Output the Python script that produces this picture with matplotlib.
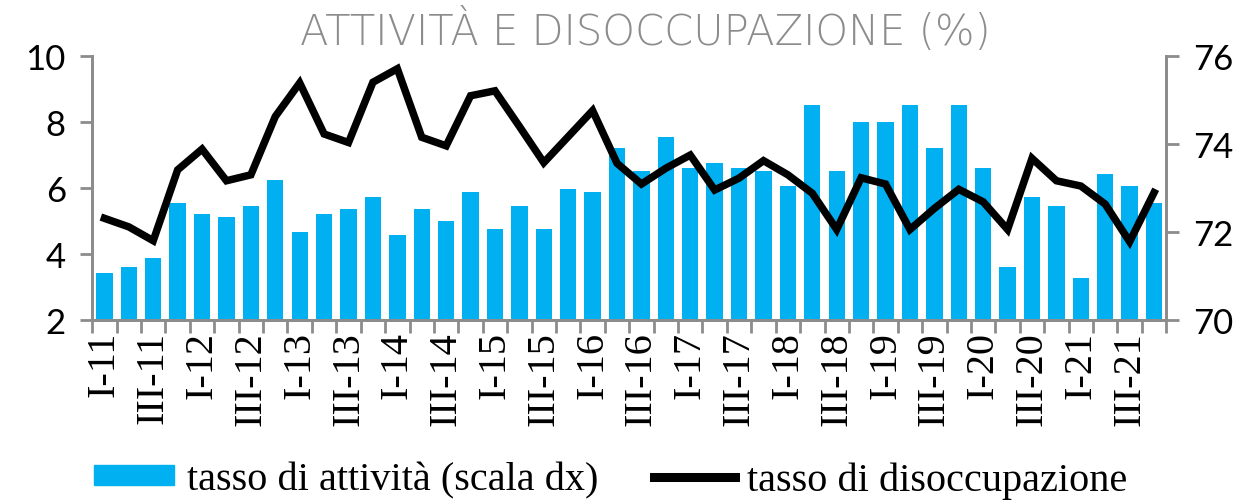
import numpy as np
import matplotlib
matplotlib.use("Agg")
import matplotlib.pyplot as plt
from matplotlib.lines import Line2D
from matplotlib.patches import Patch

# trimestri I-11 ... IV-21
romani = ["I", "II", "III", "IV"]
anni = list(range(11, 22))
trimestri = [f"{r}-{a}" for a in anni for r in romani]

# tasso di attività (scala dx)
attivita = [71.07, 71.20, 71.40, 72.66, 72.40, 72.33, 72.60, 73.18, 72.00, 72.40,
            72.52, 72.79, 71.93, 72.52, 72.26, 72.92, 72.06, 72.59, 72.06, 72.98,
            72.92, 73.91, 73.38, 74.17, 73.45, 73.58, 73.45, 73.38, 73.05, 74.90,
            73.38, 74.51, 74.51, 74.90, 73.91, 74.90, 73.45, 71.20, 72.79, 72.59,
            70.94, 73.31, 73.05, 72.66]

# tasso di disoccupazione (scala sx)
disoccupazione = [5.08, 4.82, 4.40, 6.55, 7.18, 6.22, 6.40, 8.17, 9.19, 7.64,
                  7.38, 9.21, 9.62, 7.54, 7.28, 8.80, 8.95, 7.87, 6.77, 7.56,
                  8.35, 6.75, 6.12, 6.60, 7.00, 5.94, 6.30, 6.83, 6.40, 5.84,
                  4.74, 6.31, 6.12, 4.74, 5.38, 5.96, 5.58, 4.74, 6.90, 6.22,
                  6.06, 5.51, 4.37, 5.86]

azzurro = "#00B0F0"
grigio = "#8c8c8c"

fig = plt.figure(figsize=(12.46, 5.02), dpi=100)
ax = fig.add_axes([0.074, 0.361, 0.862, 0.525])
ax2 = ax.twinx()

x = np.arange(len(trimestri))
ax2.bar(x, attivita, width=0.67, color=azzurro, bottom=0)
ax2.set_ylim(70, 76)
ax2.set_yticks([70, 72, 74, 76])

ax.plot(x, disoccupazione, color="black", lw=5.4, solid_joinstyle="miter")
ax.set_ylim(2, 10)
ax.set_yticks([2, 4, 6, 8, 10])
ax.set_xlim(-0.5, len(trimestri) - 0.5)

ax.set_zorder(ax2.get_zorder() + 1)
ax.patch.set_visible(False)

# etichette ogni due trimestri, tacche sui confini
ax.set_xticks(x[::2])
ax.set_xticklabels(trimestri[::2], rotation=90, family="Liberation Serif", fontsize=29)
ax.set_xticks(np.arange(-0.5, len(trimestri)), minor=True)
ax.tick_params(axis="x", which="major", length=0, pad=8)
ax.tick_params(axis="x", which="minor", length=9, width=2, color=grigio)

for a in (ax, ax2):
    a.spines["top"].set_visible(False)
    for s in ("left", "right", "bottom"):
        a.spines[s].set_color(grigio)
        a.spines[s].set_linewidth(2)
    a.tick_params(axis="y", length=9, width=2, color=grigio, labelsize=25, pad=10)
    for lab in a.get_yticklabels():
        lab.set_family("Lato")

fig.text(0.518, 0.94, "ATTIVITÀ E DISOCCUPAZIONE (%)", ha="center", va="center",
         fontsize=30, color=grigio, family="DejaVu Sans", weight="light")

handles = [Patch(color=azzurro), Line2D([0], [0], color="black", lw=6.5)]
fig.legend(handles, ["tasso di attività (scala dx)", "tasso di disoccupazione"],
           loc="center", bbox_to_anchor=(0.49, 0.042), ncol=2, frameon=False,
           prop={"family": "Liberation Serif", "size": 29},
           handlelength=2.0, handleheight=0.4, handletextpad=0.3, columnspacing=1.4)

fig.savefig("out.png", dpi=100)
